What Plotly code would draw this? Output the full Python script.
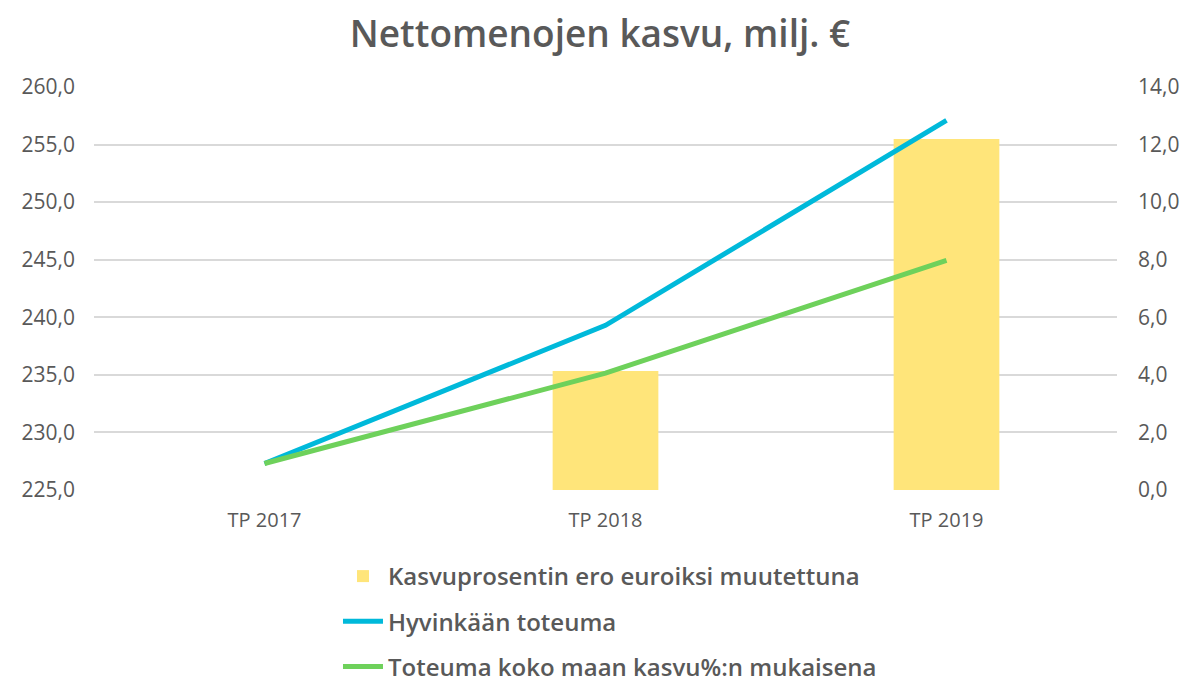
import plotly.graph_objects as go

categories = ["TP 2017", "TP 2018", "TP 2019"]
bar_values = [0, 4.13, 12.19]
hyvinkaa = [227.3, 239.3, 257.1]
koko_maa = [227.3, 235.15, 244.95]
left_ticks = [225, 230, 235, 240, 245, 250, 255, 260]
right_ticks = [0, 2, 4, 6, 8, 10, 12, 14]

GREY = "#595959"
FONT = "Open Sans"

fig = go.Figure()
fig.add_trace(go.Bar(
    x=categories, y=bar_values, name="Kasvuprosentin ero euroiksi muutettuna",
    marker=dict(color="#FFE57A", line=dict(width=0)), width=0.31,
    yaxis="y", legendgroup="a",
))
fig.add_trace(go.Scatter(
    x=categories, y=hyvinkaa, name="Hyvinkään toteuma", mode="lines",
    line=dict(color="#00B9DA", width=5), yaxis="y2", legendgroup="b",
))
fig.add_trace(go.Scatter(
    x=categories, y=koko_maa, name="Toteuma koko maan kasvu%:n mukaisena", mode="lines",
    line=dict(color="#6ED15B", width=5), yaxis="y2", legendgroup="c",
))

# the page body has an 8px default margin, so the layout is shifted up/left by 8px
fig.update_layout(
    width=1188, height=682,
    paper_bgcolor="white", plot_bgcolor="white",
    margin=dict(l=86, r=79, t=79, b=200, autoexpand=False),
    separators=", ",
    font=dict(family=FONT, color=GREY),
    title=dict(text="Nettomenojen kasvu, milj. €", x=592 / 1188, xanchor="center",
               xref="container", yref="container",
               y=1 - 26 / 682, yanchor="middle",
               font=dict(family=FONT, size=37, color=GREY, weight=600)),
    xaxis=dict(showgrid=False, showline=False, ticks="", tickfont=dict(size=20, color=GREY),
               ticklabelstandoff=16, automargin=False),
    yaxis=dict(side="right", range=[0, 14], tickvals=right_ticks, tickformat=".1f",
               showgrid=True, gridcolor="#D9D9D9", gridwidth=1.5, zeroline=False,
               showline=False, ticks="", tickfont=dict(size=21, color=GREY),
               ticklabelstandoff=20, automargin=False),
    yaxis2=dict(side="left", overlaying="y", range=[225, 260], tickvals=left_ticks,
                tickformat=".1f", showgrid=False, zeroline=False, showline=False,
                ticks="", tickfont=dict(size=21, color=GREY), ticklabelstandoff=18,
                automargin=False),
    legend=dict(orientation="v", x=0.2385, xanchor="left",
                yref="container", y=(682 - 546) / 682, yanchor="top",
                font=dict(size=24, color=GREY, family=FONT, weight=600),
                tracegroupgap=11, traceorder="grouped", itemwidth=40),
    showlegend=True,
)

fig.write_html("out.html")
